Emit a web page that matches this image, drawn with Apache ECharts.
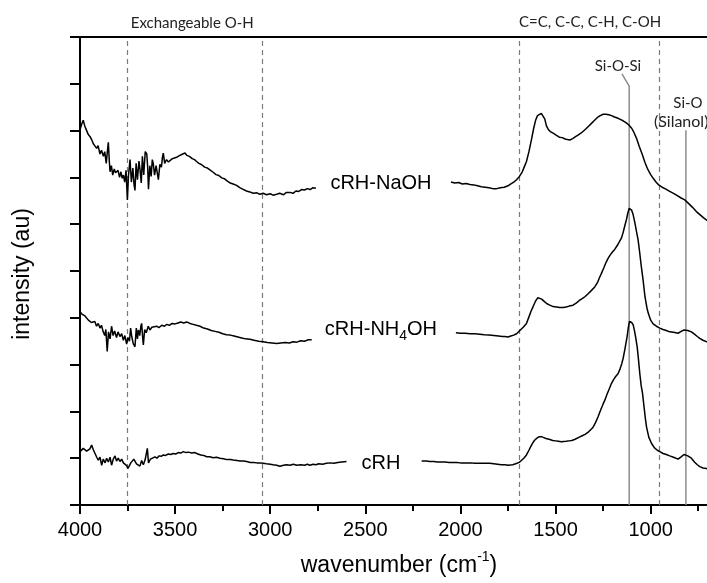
<!DOCTYPE html>
<html><head><meta charset="utf-8">
<script src="https://cdn.jsdelivr.net/npm/echarts@6/dist/echarts.min.js"></script>
<style>html,body{margin:0;padding:0;background:#fff}#c{width:707px;height:583px}</style>
</head><body><div id="c"></div>
<script>
// ---- axis ranges ----
const xMin = 500, xMax = 4000, xInterval = 500;
const yMin = 0, yMax = 10, yInterval = 1;

// ---- reference lines (wavenumber) ----
const dashedLines = [3750, 3040, 1690, 955];
const siOSiLine = [[1113, 0], [1113, 8.95], [1151, 9.21]];
const siOLine = [[815, 0], [815, 8.01]];

// ---- series labels [text, wavenumber, intensity] ----
const labelNaOH = ['cRH-NaOH', 2418, 6.88];
const labelNH4OH = ['cRH-NH|4|OH', 2418, 3.74];
const labelCRH = ['cRH', 2418, 0.88];

// ---- band annotations [text, wavenumber, top px] ----
const bandNotes = [['Exchangeable O-H', 3410, 23], ['C=C, C-C, C-H, C-OH', 1319, 22], ['Si-O-Si', 1172, 66], ['Si-O', 804, 103]];
const silanolNote = ['(Silanol)', 983, 122];

// ---- spectra: [wavenumber, intensity] ----
const naohLeft = [[4000,8.02],[3990,8.15],[3983,8.22],[3975,8.10],[3965,8.00],[3957,7.92],[3947,7.87],[3938,7.80],[3930,7.72],[3922,7.76],[3912,7.62],[3905,7.68],[3895,7.50],[3887,7.58],[3877,7.45],[3870,7.55],[3862,7.30],[3855,7.60],[3851,7.75],[3846,7.35],[3842,7.12],[3835,7.25],[3828,7.05],[3820,7.18],[3813,7.10],[3807,7.08],[3800,7.15],[3792,7.00],[3785,7.12],[3778,6.98],[3772,7.05],[3765,6.90],[3758,7.15],[3751,6.52],[3745,7.05],[3737,7.38],[3730,6.90],[3722,7.20],[3716,6.85],[3711,6.72],[3705,7.30],[3698,6.95],[3690,7.35],[3684,7.15],[3678,6.88],[3672,7.45],[3665,7.05],[3657,7.55],[3649,7.50],[3644,7.20],[3640,6.75],[3633,7.25],[3626,7.02],[3620,7.38],[3615,7.30],[3608,7.05],[3600,7.25],[3594,7.10],[3588,6.95],[3580,7.28],[3572,7.22],[3566,7.45],[3562,7.52],[3555,7.30],[3545,7.38],[3535,7.33],[3527,7.36],[3515,7.40],[3505,7.38],[3492,7.43],[3480,7.46],[3470,7.44],[3460,7.50],[3448,7.52],[3438,7.47],[3425,7.45],[3410,7.40],[3398,7.38],[3387,7.34],[3375,7.30],[3360,7.27],[3345,7.22],[3330,7.20],[3317,7.16],[3300,7.11],[3285,7.06],[3270,7.04],[3255,6.99],[3240,6.97],[3225,6.92],[3210,6.88],[3195,6.86],[3177,6.83],[3160,6.78],[3145,6.75],[3125,6.71],[3107,6.69],[3090,6.66],[3070,6.67],[3055,6.64],[3037,6.66],[3020,6.63],[3000,6.65],[2985,6.62],[2966,6.64],[2950,6.66],[2930,6.63],[2915,6.68],[2896,6.68],[2880,6.66],[2865,6.71],[2850,6.70],[2835,6.74],[2820,6.73],[2805,6.76],[2790,6.74],[2775,6.78],[2760,6.77]];
const naohRight = [[2050,6.90],[2030,6.88],[2010,6.89],[1990,6.86],[1970,6.87],[1950,6.85],[1930,6.84],[1910,6.82],[1890,6.80],[1870,6.79],[1850,6.78],[1830,6.76],[1810,6.76],[1790,6.78],[1770,6.79],[1750,6.82],[1735,6.86],[1720,6.90],[1705,6.95],[1690,7.02],[1675,7.12],[1665,7.22],[1653,7.34],[1640,7.55],[1627,7.80],[1615,8.05],[1605,8.22],[1595,8.32],[1585,8.35],[1575,8.37],[1565,8.33],[1557,8.25],[1548,8.10],[1539,8.03],[1528,7.98],[1515,7.95],[1505,7.92],[1495,7.90],[1480,7.86],[1465,7.85],[1450,7.82],[1438,7.81],[1425,7.80],[1410,7.83],[1395,7.87],[1380,7.91],[1365,7.95],[1355,7.98],[1340,8.04],[1325,8.10],[1310,8.16],[1295,8.22],[1280,8.28],[1265,8.32],[1250,8.35],[1235,8.35],[1220,8.34],[1206,8.32],[1190,8.29],[1175,8.27],[1160,8.24],[1145,8.21],[1130,8.17],[1115,8.12],[1100,8.05],[1088,7.96],[1075,7.84],[1060,7.66],[1045,7.50],[1030,7.32],[1015,7.17],[1000,7.06],[985,6.97],[970,6.89],[958,6.84],[940,6.79],[920,6.75],[900,6.70],[880,6.66],[860,6.61],[840,6.56],[821,6.52],[800,6.44],[780,6.36],[760,6.27],[740,6.20],[720,6.13],[700,6.07],[680,6.00],[660,5.94]];
const nh4ohLeft = [[4000,4.13],[3990,4.08],[3982,4.12],[3974,4.04],[3965,4.00],[3956,3.95],[3948,3.98],[3940,3.90],[3930,3.86],[3922,3.92],[3913,3.82],[3904,3.88],[3895,3.78],[3887,3.84],[3878,3.70],[3870,3.62],[3864,3.75],[3857,3.28],[3850,3.70],[3842,3.55],[3834,3.82],[3826,3.62],[3818,3.72],[3808,3.58],[3800,3.70],[3790,3.60],[3781,3.66],[3772,3.52],[3764,3.62],[3755,3.44],[3748,3.58],[3740,3.50],[3734,3.78],[3728,3.60],[3720,3.45],[3711,3.38],[3704,3.78],[3698,3.55],[3693,3.74],[3686,3.62],[3680,3.82],[3676,3.88],[3670,3.55],[3667,3.42],[3660,3.75],[3652,3.68],[3641,3.82],[3632,3.74],[3622,3.80],[3612,3.76],[3597,3.82],[3585,3.79],[3570,3.84],[3556,3.82],[3544,3.86],[3530,3.84],[3516,3.88],[3500,3.87],[3485,3.89],[3470,3.91],[3455,3.89],[3439,3.91],[3422,3.88],[3405,3.86],[3388,3.84],[3369,3.82],[3350,3.78],[3330,3.76],[3310,3.73],[3290,3.71],[3270,3.69],[3250,3.66],[3230,3.64],[3210,3.63],[3190,3.61],[3170,3.59],[3150,3.57],[3130,3.55],[3107,3.54],[3085,3.52],[3060,3.50],[3037,3.49],[3015,3.47],[2990,3.46],[2966,3.45],[2945,3.46],[2920,3.47],[2900,3.46],[2879,3.49],[2860,3.48],[2840,3.51],[2820,3.50],[2800,3.53],[2782,3.53]];
const nh4ohRight = [[2024,3.68],[2000,3.67],[1975,3.67],[1950,3.66],[1925,3.66],[1898,3.65],[1875,3.64],[1850,3.63],[1825,3.62],[1800,3.61],[1780,3.60],[1767,3.60],[1750,3.59],[1735,3.61],[1720,3.63],[1705,3.66],[1697,3.68],[1685,3.74],[1670,3.80],[1653,3.88],[1640,4.02],[1628,4.15],[1618,4.24],[1605,4.36],[1593,4.43],[1583,4.45],[1573,4.40],[1565,4.36],[1557,4.34],[1545,4.30],[1530,4.27],[1513,4.24],[1495,4.23],[1478,4.22],[1460,4.22],[1445,4.23],[1428,4.25],[1408,4.27],[1390,4.32],[1375,4.37],[1360,4.41],[1346,4.45],[1330,4.51],[1315,4.57],[1294,4.66],[1280,4.75],[1270,4.85],[1259,4.95],[1245,5.08],[1235,5.18],[1224,5.27],[1210,5.36],[1200,5.41],[1189,5.46],[1175,5.55],[1165,5.62],[1154,5.70],[1145,5.82],[1137,5.95],[1128,6.09],[1120,6.24],[1113,6.34],[1108,6.36],[1100,6.30],[1092,6.20],[1083,6.03],[1075,5.85],[1066,5.66],[1058,5.40],[1050,5.12],[1040,4.81],[1030,4.45],[1020,4.22],[1013,4.10],[1000,3.95],[987,3.87],[970,3.82],[952,3.78],[935,3.75],[918,3.73],[900,3.70],[880,3.69],[856,3.67],[840,3.71],[825,3.74],[816,3.75],[805,3.73],[795,3.72],[786,3.70],[770,3.65],[755,3.60],[742,3.56],[725,3.52],[707,3.49],[690,3.46],[670,3.43]];
const crhLeft = [[4000,1.14],[3990,1.18],[3983,1.21],[3974,1.20],[3965,1.15],[3956,1.14],[3948,1.20],[3939,1.28],[3930,1.18],[3921,1.10],[3912,1.02],[3904,0.96],[3895,1.02],[3886,0.85],[3878,0.98],[3868,0.90],[3860,1.00],[3851,0.92],[3842,1.02],[3834,0.85],[3825,0.98],[3816,1.05],[3808,0.94],[3799,1.00],[3790,0.93],[3781,0.98],[3772,0.90],[3764,0.89],[3755,0.84],[3748,0.78],[3741,0.80],[3733,0.90],[3725,0.86],[3717,0.98],[3711,1.00],[3703,0.88],[3694,0.92],[3685,0.83],[3676,0.95],[3667,0.86],[3658,0.96],[3652,0.92],[3646,1.21],[3640,0.90],[3630,0.98],[3620,0.95],[3606,1.03],[3595,1.00],[3584,1.05],[3573,1.04],[3562,1.07],[3550,1.06],[3536,1.09],[3523,1.08],[3510,1.10],[3497,1.09],[3483,1.12],[3470,1.11],[3457,1.14],[3443,1.12],[3430,1.13],[3413,1.11],[3396,1.12],[3380,1.09],[3365,1.07],[3350,1.06],[3334,1.03],[3318,1.03],[3300,1.01],[3282,1.02],[3264,1.00],[3246,0.99],[3228,0.97],[3210,0.97],[3194,0.96],[3175,0.95],[3158,0.94],[3140,0.94],[3124,0.93],[3105,0.91],[3088,0.91],[3070,0.90],[3055,0.90],[3037,0.89],[3020,0.88],[3000,0.87],[2985,0.86],[2966,0.85],[2949,0.83],[2930,0.85],[2915,0.86],[2896,0.85],[2879,0.87],[2860,0.85],[2840,0.86],[2820,0.85],[2805,0.87],[2791,0.85],[2775,0.87],[2760,0.86],[2745,0.88],[2725,0.87],[2704,0.89],[2685,0.90],[2665,0.89],[2645,0.91],[2625,0.92],[2599,0.93]];
const crhRight = [[2204,0.94],[2180,0.94],[2161,0.93],[2140,0.93],[2120,0.92],[2100,0.92],[2080,0.92],[2060,0.91],[2040,0.91],[2020,0.91],[2000,0.90],[1986,0.90],[1965,0.90],[1945,0.90],[1925,0.89],[1905,0.89],[1885,0.89],[1865,0.89],[1846,0.89],[1825,0.88],[1805,0.87],[1785,0.86],[1765,0.86],[1750,0.85],[1740,0.85],[1725,0.86],[1710,0.88],[1700,0.89],[1691,0.91],[1680,0.95],[1667,1.00],[1653,1.07],[1640,1.17],[1628,1.27],[1618,1.34],[1609,1.39],[1598,1.43],[1586,1.46],[1574,1.46],[1562,1.44],[1550,1.42],[1540,1.41],[1530,1.40],[1515,1.38],[1500,1.37],[1485,1.36],[1470,1.35],[1460,1.35],[1445,1.36],[1430,1.37],[1415,1.38],[1400,1.40],[1390,1.42],[1375,1.45],[1360,1.48],[1345,1.51],[1330,1.55],[1320,1.57],[1305,1.65],[1290,1.76],[1276,1.89],[1262,2.04],[1250,2.16],[1241,2.24],[1230,2.36],[1218,2.48],[1206,2.60],[1195,2.68],[1185,2.74],[1171,2.81],[1160,2.92],[1152,3.02],[1145,3.13],[1136,3.32],[1130,3.46],[1124,3.60],[1118,3.78],[1112,3.92],[1108,3.95],[1100,3.90],[1092,3.85],[1085,3.72],[1078,3.56],[1071,3.38],[1064,3.10],[1057,2.80],[1050,2.55],[1043,2.39],[1035,2.10],[1028,1.85],[1022,1.67],[1010,1.45],[996,1.32],[980,1.22],[965,1.17],[952,1.14],[935,1.10],[918,1.08],[900,1.05],[880,1.02],[856,0.98],[840,1.03],[825,1.08],[816,1.10],[805,1.05],[795,1.02],[786,1.00],[770,0.92],[755,0.86],[742,0.82],[725,0.79],[707,0.78],[690,0.76],[670,0.74]];

const AR = '"Liberation Sans", Arial, sans-serif';
const CAL = 'Lato, "Open Sans", sans-serif';

const chart = echarts.init(document.getElementById('c'), null, {renderer: 'canvas'});

function spectrum(data) {
  return {type: 'line', data: data, showSymbol: false, symbol: 'none', silent: true,
    lineStyle: {color: '#000', width: 1.5}, z: 5, animation: false};
}
function guide(data) {
  return {type: 'line', data: data, showSymbol: false, symbol: 'none', silent: true,
    lineStyle: {color: '#8c8c8c', width: 1.5}, z: 3, animation: false};
}

const xBase = {type: 'value', min: xMin, max: xMax, interval: xInterval, inverse: true, splitLine: {show: false}};

const option = {
  animation: false,
  backgroundColor: '#fff',
  grid: {left: 80, right: -38.8, top: 37, bottom: 78, containLabel: false, outerBoundsMode: 'none'},
  xAxis: [
    Object.assign({}, xBase, {
      position: 'bottom',
      axisLine: {show: true, onZero: false, lineStyle: {color: '#000', width: 2}},
      axisTick: {show: true, length: 9, lineStyle: {color: '#000', width: 2}},
      minorTick: {show: true, splitNumber: 2, length: 6, lineStyle: {color: '#000', width: 2}},
      axisLabel: {color: '#000', fontSize: 20, fontFamily: AR, margin: 15, formatter: v => String(v)}
    }),
    Object.assign({}, xBase, {
      position: 'top',
      axisLine: {show: true, onZero: false, lineStyle: {color: '#000', width: 2}},
      axisTick: {show: false}, axisLabel: {show: false}
    })
  ],
  yAxis: {
    type: 'value', min: yMin, max: yMax, interval: yInterval,
    axisLine: {show: true, onZero: false, lineStyle: {color: '#000', width: 2}},
    axisTick: {show: true, length: 10, lineStyle: {color: '#000', width: 2}},
    axisLabel: {show: false}, splitLine: {show: false}
  },
  series: [
    {type: 'line', data: [], silent: true, z: 2,
      markLine: {silent: true, symbol: ['none', 'none'], label: {show: false},
        lineStyle: {color: '#7a7a7a', width: 1.2, type: [5, 4]},
        data: dashedLines.map(v => ({xAxis: v}))}},
    guide(siOSiLine),
    guide(siOLine),
    spectrum(naohLeft), spectrum(naohRight),
    spectrum(nh4ohLeft), spectrum(nh4ohRight),
    spectrum(crhLeft), spectrum(crhRight)
  ]
};
chart.setOption(option);

// ---- text annotations anchored to the axes ----
const measureCtx = document.createElement('canvas').getContext('2d');
function textWidth(t, size, fam) { measureCtx.font = size + 'px ' + fam; return measureCtx.measureText(t).width; }
function px(wn, v) { return chart.convertToPixel({gridIndex: 0}, [wn, v]); }

const g = [];
function txt(t, x, y, size, fam, align, fill) {
  g.push({type: 'text', x: x, y: y, z: 100, silent: true,
    style: {text: t, fill: fill || '#000', font: size + 'px ' + fam, textAlign: align || 'center', textVerticalAlign: 'middle'}});
}

// series labels
[labelNaOH, labelCRH].forEach(l => { const p = px(l[1], l[2]); txt(l[0], p[0], p[1], 20, AR, 'center'); });
(function () {
  const parts = labelNH4OH[0].split('|');
  const p = px(labelNH4OH[1], labelNH4OH[2]);
  const w0 = textWidth(parts[0], 20, AR), w1 = textWidth(parts[1], 14, AR), w2 = textWidth(parts[2], 20, AR);
  let x = p[0] - (w0 + w1 + w2) / 2;
  txt(parts[0], x, p[1], 20, AR, 'left'); x += w0;
  txt(parts[1], x, p[1] + 6, 14, AR, 'left'); x += w1;
  txt(parts[2], x, p[1], 20, AR, 'left');
})();

// band annotations
bandNotes.forEach(n => { const p = px(n[1], 5); txt(n[0], p[0], n[2], 15, CAL, 'center', '#222'); });
(function () { const p = px(silanolNote[1], 5); txt(silanolNote[0], p[0], silanolNote[2], 16, CAL, 'left', '#222'); })();

// axis titles
(function () {
  const a = 'wavenumber (cm', s = '-1', b = ')';
  const wa = textWidth(a, 23, AR), ws = textWidth(s, 14, AR), wb = textWidth(b, 23, AR);
  let x = 399 - (wa + ws + wb) / 2; const y = 566;
  txt(a, x, y, 23, AR, 'left'); x += wa;
  txt(s, x, y - 9, 14, AR, 'left'); x += ws;
  txt(b, x, y, 23, AR, 'left');
})();
g.push({type: 'text', x: 22.5, y: 274, rotation: Math.PI / 2, z: 100, silent: true,
  style: {text: 'intensity (au)', fill: '#000', font: '23px ' + AR, textAlign: 'center', textVerticalAlign: 'middle'}});

chart.setOption({graphic: g});
</script>
</body></html>
